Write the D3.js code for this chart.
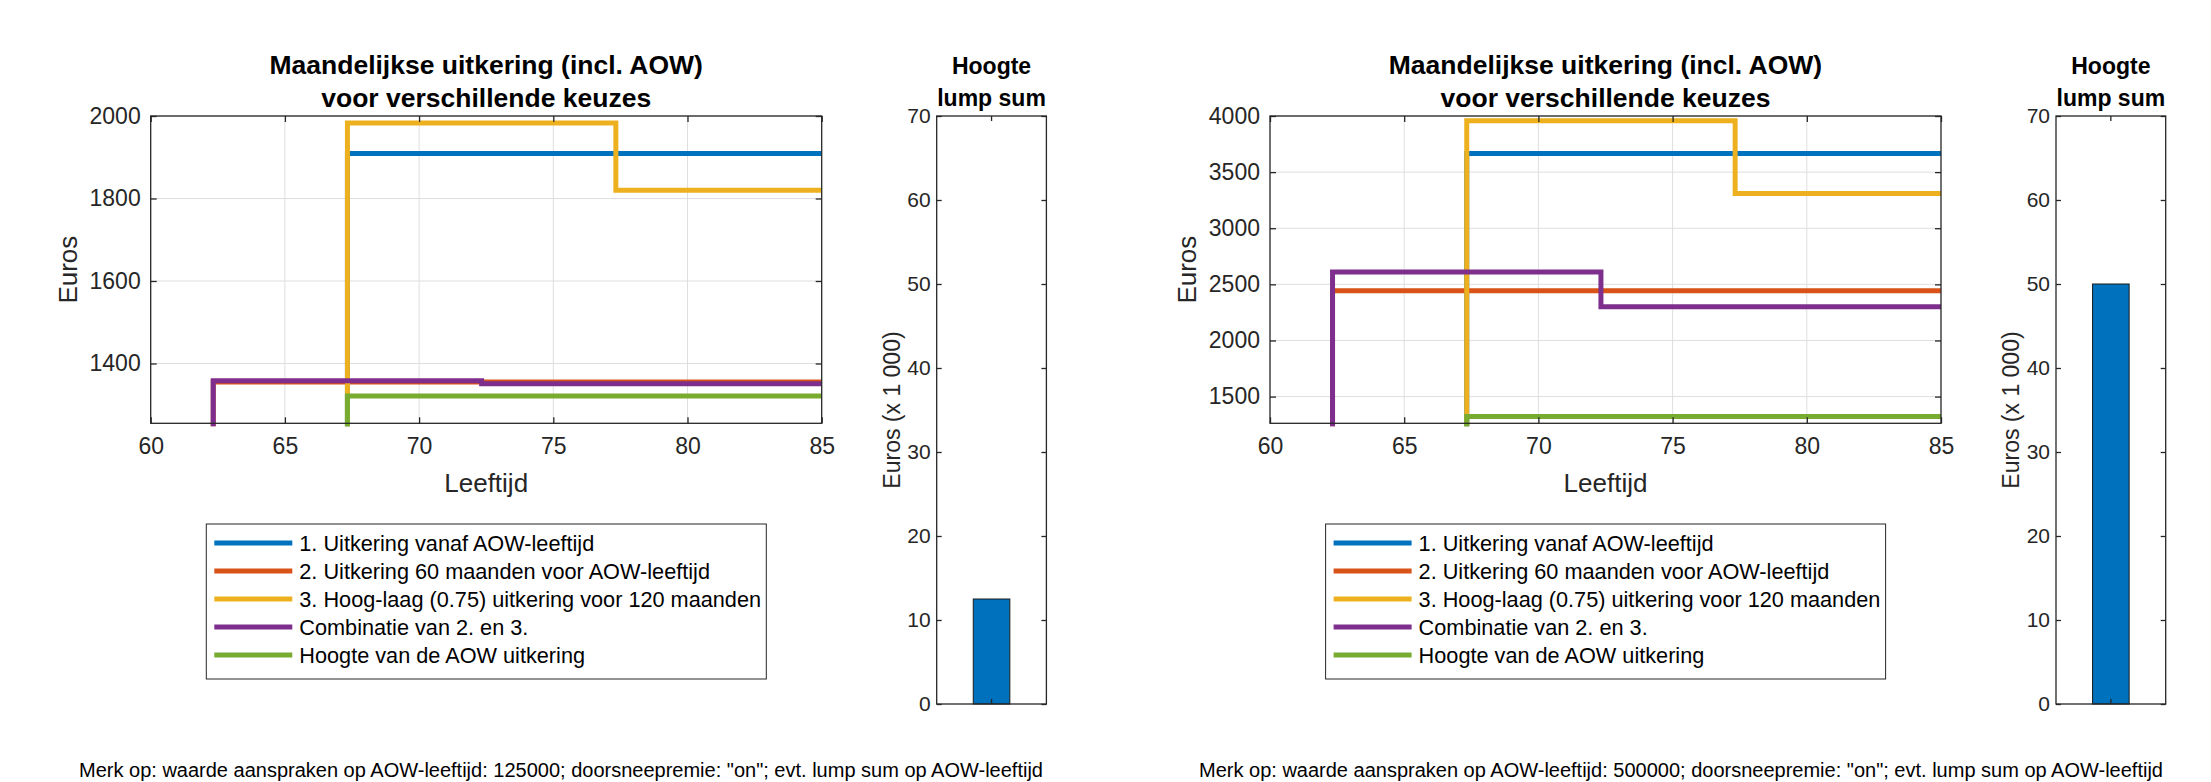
<!DOCTYPE html>
<html><head><meta charset="utf-8">
<script src="https://cdn.jsdelivr.net/npm/d3@7"></script>
<style>
body{margin:0;background:#fff}
svg{display:block}
text{font-family:"Liberation Sans",Arial,Helvetica,sans-serif}
</style>
</head><body>
<svg id="c" width="2211" height="782"></svg>
<script>
// ---------------- DATA ----------------
const seriesNames = [
  "1. Uitkering vanaf AOW-leeftijd",
  "2. Uitkering 60 maanden voor AOW-leeftijd",
  "3. Hoog-laag (0.75) uitkering voor 120 maanden",
  "Combinatie van 2. en 3.",
  "Hoogte van de AOW uitkering"
];
const seriesColors = ["#0072BD", "#D95319", "#EDB120", "#7E2F8E", "#77AC30"];
// step breakpoints (age); value i holds from stepAges[i] to stepAges[i+1]
const stepAges = [60, 62.33, 67.33, 72.33, 77.33, 85];
// left figure (125000)
const leftBlue   = [0, 0,    1909, 1909, 1909];
const leftRed    = [0, 1355, 1355, 1355, 1355];
const leftYellow = [0, 0,    1983, 1983, 1820];
const leftPurple = [0, 1358, 1358, 1351, 1351];
const leftGreen  = [0, 0,    1321, 1321, 1321];
// right figure (500000)
const rightBlue   = [0, 0,    3665, 3665, 3665];
const rightRed    = [0, 2443, 2443, 2443, 2443];
const rightYellow = [0, 0,    3958, 3958, 3310];
const rightPurple = [0, 2609, 2609, 2301, 2301];
const rightGreen  = [0, 0,    1322, 1322, 1322];
// lump sums (x 1000 euro)
const lumpCategory = ["lump sum"];
const leftLump  = [12.5];
const rightLump = [50];
// axes
const xDomain = [60, 85];
const xTicks = [60, 65, 70, 75, 80, 85];
const leftYDomain = [1255, 2000];
const leftYTicks = [1400, 1600, 1800, 2000];
const rightYDomain = [1262, 4000];
const rightYTicks = [1500, 2000, 2500, 3000, 3500, 4000];
const lumpYDomain = [0, 70];
const lumpYTicks = [0, 10, 20, 30, 40, 50, 60, 70];
// texts
const mainTitle = ["Maandelijkse uitkering (incl. AOW)", "voor verschillende keuzes"];
const lumpTitle = ["Hoogte", "lump sum"];
const xLabel = "Leeftijd";
const yLabel = "Euros";
const lumpYLabel = "Euros (x 1 000)";
const leftNote = 'Merk op: waarde aanspraken op AOW-leeftijd: 125000; doorsneepremie: "on"; evt. lump sum op AOW-leeftijd';
const rightNote = 'Merk op: waarde aanspraken op AOW-leeftijd: 500000; doorsneepremie: "on"; evt. lump sum op AOW-leeftijd';

// ---------------- DRAW ----------------
const svg = d3.select("#c");
const AX = "#262626", GRID = "#dfdfdf";
let clipId = 0;

function gridAndBox(g, x0, x1, y0, y1) {
  g.append("rect").attr("x", x0).attr("y", y0).attr("width", x1 - x0).attr("height", y1 - y0)
    .attr("fill", "none").attr("stroke", AX).attr("stroke-width", 1.3);
}

function styleAxis(sel, fs) {
  sel.select(".domain").remove();
  sel.selectAll(".tick line").attr("stroke", AX).attr("stroke-width", 1.3);
  sel.selectAll(".tick text").attr("fill", AX).style("font-size", fs + "px");
}

function drawPanel(cfg) {
  const g = svg.append("g");
  const L = cfg.left, R = cfg.left + 671, T = 116, B = 423.3;
  const x = d3.scaleLinear().domain(xDomain).range([L, R]);
  const y = d3.scaleLinear().domain(cfg.yDomain).range([B, T]);

  // grid
  g.append("g").selectAll("line").data(xTicks.slice(1, -1)).join("line")
    .attr("x1", d => x(d)).attr("x2", d => x(d)).attr("y1", T).attr("y2", B)
    .attr("stroke", GRID).attr("stroke-width", 1);
  g.append("g").selectAll("line").data(cfg.yTicks).join("line")
    .attr("y1", d => y(d)).attr("y2", d => y(d)).attr("x1", L).attr("x2", R)
    .attr("stroke", GRID).attr("stroke-width", 1);

  // lines
  const id = "clip" + (clipId++);
  svg.append("clipPath").attr("id", id).append("rect")
    .attr("x", L - 3).attr("y", T - 3).attr("width", R - L + 3).attr("height", B - T + 6);
  const line = d3.line().x(d => x(d[0])).y(d => y(d[1])).curve(d3.curveStepAfter);
  const lg = g.append("g").attr("clip-path", `url(#${id})`);
  cfg.series.forEach((vals, i) => {
    const pts = vals.map((v, k) => [stepAges[k], v]);
    pts.push([stepAges[stepAges.length - 1], vals[vals.length - 1]]);
    lg.append("path").attr("d", line(pts)).attr("fill", "none")
      .attr("stroke", seriesColors[i]).attr("stroke-width", 5)
      .attr("stroke-linejoin", "miter").attr("stroke-linecap", "butt");
  });

  // box and axes
  gridAndBox(g, L, R, T, B);
  g.append("g").attr("transform", `translate(0,${B})`)
    .call(d3.axisBottom(x).tickValues(xTicks).tickSize(-6).tickPadding(14).tickFormat(d3.format("d")))
    .call(s => styleAxis(s, 23));
  g.append("g").attr("transform", `translate(0,${T})`)
    .call(d3.axisTop(x).tickValues(xTicks).tickSize(-6).tickFormat(""))
    .call(s => styleAxis(s, 23));
  g.append("g").attr("transform", `translate(${L},0)`)
    .call(d3.axisLeft(y).tickValues(cfg.yTicks).tickSize(-6).tickPadding(10).tickFormat(d3.format("d")))
    .call(s => styleAxis(s, 23));
  g.append("g").attr("transform", `translate(${R},0)`)
    .call(d3.axisRight(y).tickValues(cfg.yTicks).tickSize(-6).tickFormat(""))
    .call(s => styleAxis(s, 23));

  // titles & labels
  const cx = (L + R) / 2;
  mainTitle.forEach((t, i) => {
    g.append("text").attr("x", cx).attr("y", 65 + i * 33).attr("text-anchor", "middle")
      .attr("dominant-baseline", "central").style("font-size", "26.5px").style("font-weight", "bold")
      .attr("fill", "#000").text(t);
  });
  g.append("text").attr("x", cx).attr("y", 483).attr("text-anchor", "middle")
    .attr("dominant-baseline", "central").style("font-size", "26px").attr("fill", AX).text(xLabel);
  g.append("text").attr("transform", `translate(${L - 83},${(T + B) / 2}) rotate(-90)`)
    .attr("text-anchor", "middle").attr("dominant-baseline", "central")
    .style("font-size", "26px").attr("fill", AX).text(yLabel);

  // legend
  const lx = L + 55.6, ly = 524;
  g.append("rect").attr("x", lx).attr("y", ly).attr("width", 560).attr("height", 155)
    .attr("fill", "#fff").attr("stroke", AX).attr("stroke-width", 1);
  seriesNames.forEach((n, i) => {
    const yy = 543 + i * 28;
    g.append("line").attr("x1", lx + 8).attr("x2", lx + 86).attr("y1", yy).attr("y2", yy)
      .attr("stroke", seriesColors[i]).attr("stroke-width", 5);
    g.append("text").attr("x", lx + 93).attr("y", yy).attr("dominant-baseline", "central")
      .style("font-size", "21.7px").attr("fill", "#000").text(n);
  });

  // lump sum bar panel
  const bL = R + 115, bR = bL + 109.7, bT = 116, bB = 704;
  const bx = d3.scaleBand().domain(lumpCategory).range([bL, bR]).paddingInner(0).paddingOuter(1);
  const by = d3.scaleLinear().domain(lumpYDomain).range([bB, bT]);
  g.append("g").selectAll("rect").data(cfg.lump).join("rect")
    .attr("x", (d, i) => bx(lumpCategory[i])).attr("width", bx.bandwidth())
    .attr("y", d => by(d)).attr("height", d => by(0) - by(d))
    .attr("fill", "#0072BD").attr("stroke", "#1a1a1a").attr("stroke-width", 1);
  gridAndBox(g, bL, bR, bT, bB);
  g.append("g").attr("transform", `translate(0,${bB})`)
    .call(d3.axisBottom(bx).tickSize(-5).tickFormat(""))
    .call(s => styleAxis(s, 21));
  g.append("g").attr("transform", `translate(0,${bT})`)
    .call(d3.axisTop(bx).tickSize(-5).tickFormat(""))
    .call(s => styleAxis(s, 21));
  g.append("g").attr("transform", `translate(${bL},0)`)
    .call(d3.axisLeft(by).tickValues(lumpYTicks).tickSize(-5).tickPadding(6).tickFormat(d3.format("d")))
    .call(s => styleAxis(s, 21));
  g.append("g").attr("transform", `translate(${bR},0)`)
    .call(d3.axisRight(by).tickValues(lumpYTicks).tickSize(-5).tickFormat(""))
    .call(s => styleAxis(s, 21));
  const bcx = (bL + bR) / 2;
  lumpTitle.forEach((t, i) => {
    g.append("text").attr("x", bcx).attr("y", 66 + i * 32).attr("text-anchor", "middle")
      .attr("dominant-baseline", "central").style("font-size", "23px").style("font-weight", "bold")
      .attr("fill", "#000").text(t);
  });
  g.append("text").attr("transform", `translate(${bL - 45},${(bT + bB) / 2}) rotate(-90)`)
    .attr("text-anchor", "middle").attr("dominant-baseline", "central")
    .style("font-size", "23px").attr("fill", AX).text(lumpYLabel);

  // note
  g.append("text").attr("x", cfg.noteX).attr("y", 770).attr("text-anchor", "middle")
    .attr("dominant-baseline", "central").style("font-size", "20px").attr("fill", "#000").text(cfg.note);
}

drawPanel({
  left: 150.7, yDomain: leftYDomain, yTicks: leftYTicks,
  series: [leftBlue, leftRed, leftYellow, leftPurple, leftGreen],
  lump: leftLump, note: leftNote, noteX: 561
});
drawPanel({
  left: 1270, yDomain: rightYDomain, yTicks: rightYTicks,
  series: [rightBlue, rightRed, rightYellow, rightPurple, rightGreen],
  lump: rightLump, note: rightNote, noteX: 1681
});
</script>
</body></html>
